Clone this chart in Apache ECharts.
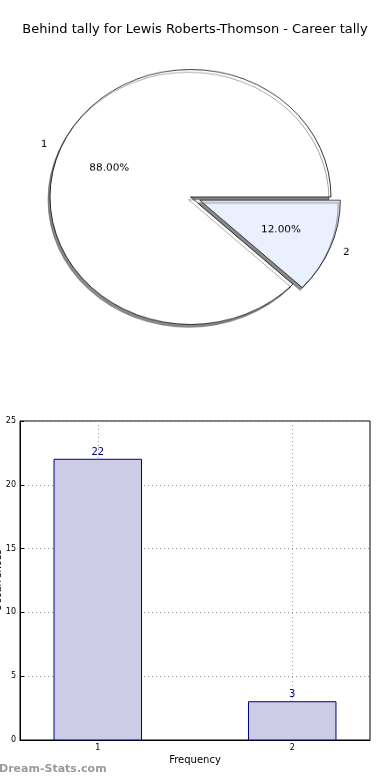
<!DOCTYPE html>
<html>
<head>
<meta charset="utf-8">
<script src="https://cdn.jsdelivr.net/npm/echarts@6/dist/echarts.min.js"></script>
<style>
html,body{margin:0;padding:0;background:#fff;}
#wrap{position:relative;width:390px;height:780px;overflow:hidden;}
#main{position:absolute;left:0;top:0;width:390px;height:780px;}
#pie{position:absolute;left:0;top:0;width:390px;height:400px;transform:scaleY(0.9075);transform-origin:0 0;}
</style>
</head>
<body>
<div id="wrap"><div id="main"></div><div id="pie"></div></div>
<script>
// ---- data ----
const titleText = 'Behind tally for Lewis Roberts-Thomson - Career tally';
const pieNames = ['1', '2'];
const pieValues = [88, 12];
const pieColors = ['#ffffff', '#eaf0fd'];
const explodedIndex = 1;
const barCategories = [1, 2];
const barValues = [22, 3];
const yTicks = [0, 5, 10, 15, 20, 25];
const xAxisName = 'Frequency';
const yAxisName = 'Occurrences';
const watermark = 'Dream-Stats.com';

const FONT = 'DejaVu Sans';

// ---- pie ----
const R = 140.5;
const CX = 190.5, CY = 217;
function pieData(colorFn) {
  return pieNames.map((n, i) => ({
    name: n, value: pieValues[i], selected: i === explodedIndex,
    itemStyle: colorFn(i)
  }));
}
const common = {
  type: 'pie', center: [CX, CY], startAngle: 0, clockwise: false,
  selectedMode: 'single', selectedOffset: 10, animation: false,
  emphasis: {disabled: true}, labelLine: {show: false}, avoidLabelOverlap: false
};
const pieChart = echarts.init(document.getElementById('pie'), null, {renderer: 'canvas'});
pieChart.setOption({
  series: [
    Object.assign({}, common, {
      radius: [0, R], z: 2,
      data: pieData(i => ({color: pieColors[i], borderColor: '#000', borderWidth: 0.8,
        shadowColor: 'rgba(0,0,0,0.45)', shadowBlur: 0, shadowOffsetX: -2, shadowOffsetY: 3})),
      label: {show: false}
    }),
    Object.assign({}, common, {
      radius: [0, R * 1.2], z: 3, silent: true,
      data: pieData(i => ({color: 'rgba(0,0,0,0)', borderWidth: 0})),
      label: {show: true, position: 'inside', fontFamily: FONT, fontSize: 10.5, color: '#000',
        formatter: p => p.percent.toFixed(2) + '%'}
    }),
    Object.assign({}, common, {
      radius: [0, R * 2.2], z: 3, silent: true,
      data: pieData(i => ({color: 'rgba(0,0,0,0)', borderWidth: 0})),
      label: {show: true, position: 'inside', fontFamily: FONT, fontSize: 10.5, color: '#000',
        formatter: '{b}'}
    })
  ]
});

// ---- bar + title ----
const HALF_W = 0.225;
const main = echarts.init(document.getElementById('main'), null, {renderer: 'canvas'});
main.setOption({
  animation: false,
  title: {text: titleText, left: 'center', top: 23, padding: 0,
    textStyle: {fontFamily: FONT, fontSize: 13, fontWeight: 'normal', color: '#000'}},
  grid: {left: 20, right: 20, top: 421, bottom: 40, show: true, borderColor: '#000', borderWidth: 1,
    containLabel: false, outerBoundsMode: 'none'},
  xAxis: {
    type: 'value', min: 0.6, max: 2.4,
    name: xAxisName, nameLocation: 'middle', nameGap: 15, nameMoveOverlap: false,
    nameTextStyle: {fontFamily: FONT, fontSize: 10, color: '#000'},
    axisLine: {show: true, lineStyle: {color: '#000'}},
    axisTick: {show: true, inside: true, length: 4, customValues: barCategories, lineStyle: {color: '#000'}},
    axisLabel: {customValues: barCategories, fontFamily: FONT, fontSize: 8, color: '#000', margin: 4},
    splitLine: {show: true, lineStyle: {color: '#999', type: [1, 3], width: 1}}
  },
  yAxis: {
    type: 'value', min: yTicks[0], max: yTicks[yTicks.length - 1], interval: 5,
    name: yAxisName, nameLocation: 'middle', nameGap: 17, nameRotate: 90, nameMoveOverlap: false,
    nameTextStyle: {fontFamily: FONT, fontSize: 10, color: '#000'},
    axisLine: {show: true, lineStyle: {color: '#000'}},
    axisTick: {show: true, inside: true, length: 4, lineStyle: {color: '#000'}},
    axisLabel: {fontFamily: FONT, fontSize: 8, color: '#000', margin: 4},
    splitLine: {show: true, lineStyle: {color: '#999', type: [1, 3], width: 1}}
  },
  series: [{
    type: 'custom',
    data: barCategories.map((c, i) => [c, barValues[i]]),
    encode: {x: 0, y: 1},
    renderItem: function (params, api) {
      const x = api.value(0), y = api.value(1);
      const p0 = api.coord([x - HALF_W, y]);
      const p1 = api.coord([x + HALF_W, 0]);
      const pc = api.coord([x, y]);
      return {
        type: 'group',
        children: [{
          type: 'rect',
          shape: {x: p0[0], y: p0[1], width: p1[0] - p0[0], height: p1[1] - p0[1]},
          style: {fill: '#ccccE6', stroke: '#000080', lineWidth: 1}
        }, {
          type: 'text',
          x: pc[0], y: pc[1] - 2,
          style: {text: String(y), fill: '#000080', font: '10px "DejaVu Sans"',
            align: 'center', verticalAlign: 'bottom'}
        }]
      };
    }
  }],
  graphic: [{
    type: 'text', left: -1, top: 764,
    style: {text: watermark, font: 'bold 11px "DejaVu Sans"', fill: '#9a9a9a'}
  }]
});
</script>
</body>
</html>
